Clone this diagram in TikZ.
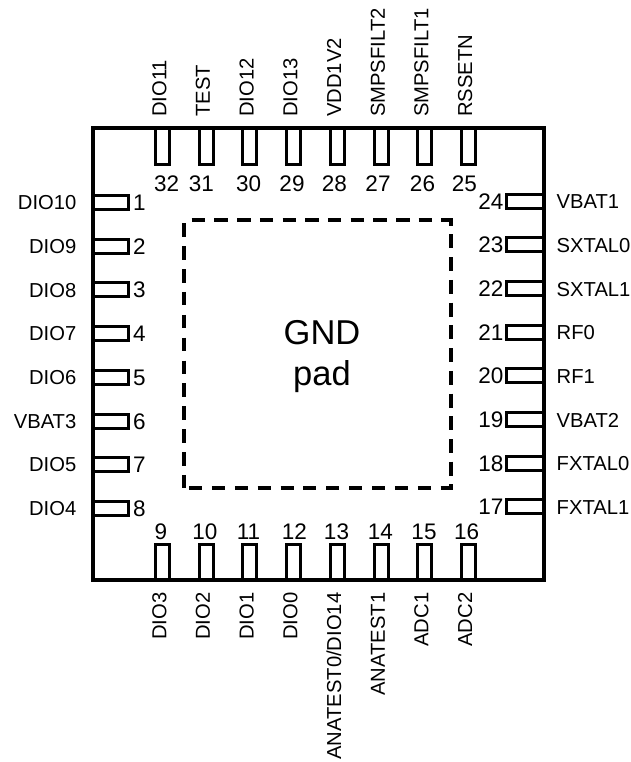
\documentclass[tikz,border=0pt]{standalone}
\usepackage{fontspec}
\setmainfont{Liberation Sans}
\tikzset{
  pkg/.style={line width=4.7pt,line join=miter},
  pinbox/.style={line width=3pt,line join=miter},
  padline/.style={line width=4pt},
  sig/.style={inner sep=0pt,text height=14.5pt,text depth=0pt,font=\fontsize{20.2}{21}\selectfont},
  num/.style={inner sep=0pt,text height=16pt,text depth=0pt,font=\fontsize{22.5}{24}\selectfont},
  big/.style={align=center,inner sep=0pt,font=\fontsize{34.5}{41}\selectfont}
}
\begin{document}
\begin{tikzpicture}[x=1pt,y=-1pt]
\useasboundingbox (0,0) rectangle (630,762);
% left pins
\foreach \n/\lab [count=\i from 0] in {1/DIO10,2/DIO9,3/DIO8,4/DIO7,5/DIO6,6/VBAT3,7/DIO5,8/DIO4}{
  \pgfmathsetmacro{\yy}{202.5+43.7*\i}
  \draw[pinbox] (93,\yy-7) rectangle (128,\yy+7);
  \node[sig,anchor=east] (L\n) at (76.5,\yy) {\lab};
  \node[num,anchor=west] (NL\n) at (133,\yy) {\n};
}
% right pins
\foreach \n/\lab [count=\i from 0] in {24/VBAT1,23/SXTAL0,22/SXTAL1,21/RF0,20/RF1,19/VBAT2,18/FXTAL0,17/FXTAL1}{
  \pgfmathsetmacro{\yy}{201+43.7*\i}
  \draw[pinbox] (544,\yy-7) rectangle (506.5,\yy+7);
  \node[sig,anchor=west] (R\n) at (556.5,\yy+0.5) {\lab};
  \node[num,anchor=east] (NR\n) at (503.5,\yy) {\n};
}
% top pins
\foreach \n/\lab/\nx [count=\i from 0] in {32/DIO11/166.7,31/TEST/201.5,30/DIO12/248.7,29/DIO13/292,28/VDD1V2/334.3,27/SMPSFILT2/378,26/SMPSFILT1/422.5,25/RSSETN/464.3}{
  \pgfmathsetmacro{\xx}{162.5+43.7*\i}
  \draw[pinbox] (\xx-7,128) rectangle (\xx+7,164.5);
  \node[sig,rotate=90,anchor=west] (T\n) at (\xx-3.5,117) {\lab};
  \node[num] (NT\n) at (\nx,183) {\n};
}
% bottom pins
\foreach \n/\lab/\nx [count=\i from 0] in {9/{DIO3}/161,10/{DIO2}/205,11/{DIO1}/248.5,12/{DIO0}/294.3,13/{ANATEST0/DIO14}/336.5,14/{ANATEST1}/380.3,15/{ADC1}/424,16/{ADC2}/466.7}{
  \pgfmathsetmacro{\xx}{162.5+43.7*\i}
  \draw[pinbox] (\xx-7,544) rectangle (\xx+7,580);
  \node[num] (NB\n) at (\nx,531) {\n};
  \node[sig,rotate=90,anchor=east] (B\n) at (\xx-3.5,592.5) {\lab};
}
\draw[pkg] (93,128) rectangle (544,580);
% dashed pad outline
\draw[padline,dash pattern=on 13.5pt off 9.2pt] (191.7,220.3) -- (453.3,220.3);
\draw[padline,dash pattern=on 14pt off 8.74pt,dash phase=6.7pt] (451.3,218.3) -- (451.3,489);
\draw[padline,dash pattern=on 13pt off 9.88pt] (189,487.8) -- (453.3,487.8);
\draw[padline,dash pattern=on 13.5pt off 9.38pt] (184.3,223.3) -- (184.3,487.8);
\node[big] (gnd) at (322,357) {GND\\pad};
\end{tikzpicture}
\end{document}
